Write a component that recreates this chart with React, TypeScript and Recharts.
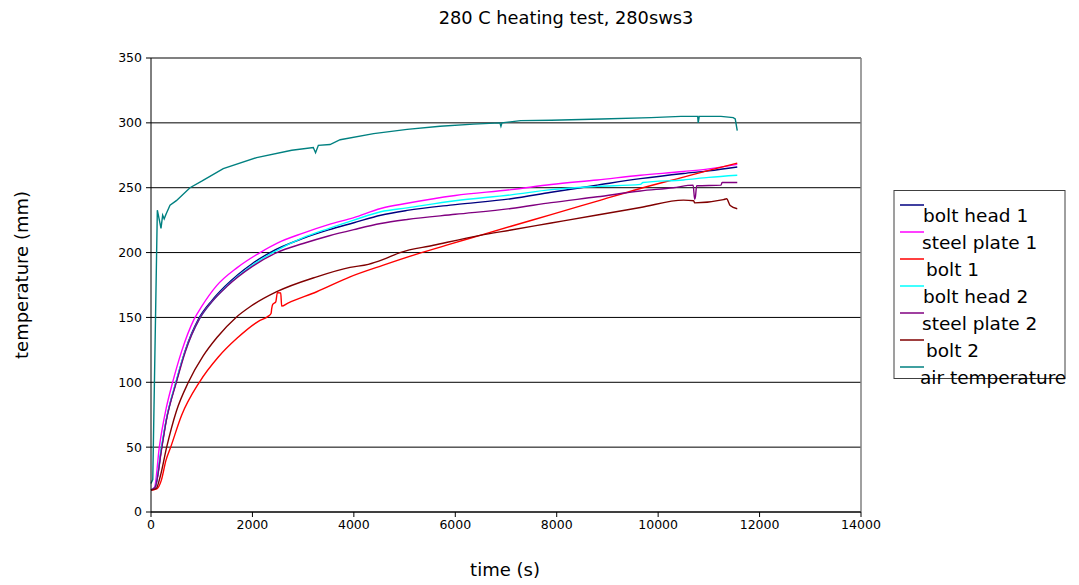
import React from 'react';
import { LineChart, Line, XAxis, YAxis, CartesianGrid, ReferenceLine } from 'recharts';

const xTicks = [0, 2000, 4000, 6000, 8000, 10000, 12000, 14000];
const yTicks = [0, 50, 100, 150, 200, 250, 300, 350];

const boltHead1T = [0, 80, 211, 300, 493, 670, 933, 1200, 1460, 2000, 2347, 3000, 3500, 4000, 4530, 5050, 6000, 7100, 7890, 8800, 9650, 10500, 11000, 11560];
const boltHead1V = [17, 19, 50, 70.7, 100, 124, 148.5, 163, 174, 191.6, 200, 211, 217.5, 223, 228.8, 232.5, 237, 241.5, 246.5, 252, 257, 261, 263, 266];

const steelPlate1T = [0, 70, 164, 300, 427, 605, 848, 1000, 1295, 1700, 2150, 2500, 3000, 3500, 4000, 4530, 5050, 6000, 7100, 7890, 8800, 9650, 10500, 11000, 11560];
const steelPlate1V = [17, 19, 50, 80, 100, 124, 148.5, 158.5, 174.5, 188.4, 200, 207.5, 215, 221.5, 227, 234, 238, 244, 248.5, 252.5, 256, 259.6, 262.5, 264.5, 268];

const bolt1T = [0, 120, 200, 296, 388, 600, 953, 1328, 1700, 2117, 2314, 2367, 2380, 2400, 2460, 2492, 2558, 2577, 2700, 3268, 3925, 4582, 5240, 5897, 6489, 7100, 7890, 8800, 9650, 10500, 11000, 11560];
const bolt1V = [16.7, 18, 24, 40, 50, 74.2, 100, 119.5, 134.1, 147, 151, 153, 156.7, 160, 162, 169.1, 168.8, 158.7, 161, 169.8, 181.3, 190.3, 198.8, 206.5, 213.3, 220.3, 229.3, 239.7, 249.4, 258.2, 263.4, 269];

const boltHead2T = [0, 80, 205, 300, 490, 675, 950, 1200, 1490, 2000, 2400, 3000, 3500, 4000, 4530, 5050, 6000, 7100, 7890, 8800, 9650, 9700, 10500, 11000, 11560];
const boltHead2V = [17, 19, 50, 71, 100, 124, 148.5, 162, 174, 190.4, 200, 211.5, 218.5, 225, 231.5, 234.5, 240, 244.5, 248.5, 251, 252.6, 254, 256, 258, 259.6];

const steelPlate2T = [0, 80, 215, 300, 500, 680, 950, 1200, 1500, 2000, 2480, 3000, 3500, 4000, 4530, 5050, 6000, 7100, 7890, 8800, 9650, 10300, 10690, 10720, 10735, 10760, 11240, 11260, 11560];
const steelPlate2V = [17, 19, 50, 70, 100, 124, 148.5, 162, 174, 189.3, 200, 207, 212.8, 217.7, 222.4, 225.5, 229.5, 234, 238.5, 243, 247.5, 250, 252, 241, 243, 251.5, 252, 254, 254];

const bolt2T = [0, 100, 180, 309, 500, 737, 1032, 1300, 1677, 1953, 2479, 3268, 3925, 4286, 4582, 4911, 5568, 6489, 7100, 7890, 8800, 9650, 10500, 10700, 10720, 11288, 11350, 11420, 11560];
const bolt2V = [17, 18, 27, 50, 77.7, 100, 120.5, 134.5, 150, 158.2, 169.8, 181.3, 188.6, 190.9, 194.7, 200, 205.6, 213.3, 217.4, 222.8, 229, 234.7, 240.4, 240, 238.3, 240.8, 241.5, 236.3, 233.8];

const airT = [0, 35, 125, 160, 197, 230, 260, 300, 375, 500, 769, 1000, 1425, 2083, 2775, 3200, 3245, 3300, 3530, 3730, 4390, 5050, 5700, 6360, 6880, 6900, 6920, 7290, 7890, 8880, 9860, 10450, 10780, 10790, 10810, 11240, 11480, 11520, 11560];
const airV = [22, 25, 232.7, 226, 218.6, 228.8, 226, 230, 236.5, 240, 250, 255, 264.7, 273.2, 278.9, 281, 277, 282.7, 283.3, 287, 291.7, 295, 297.4, 299, 300, 297.4, 300, 301.7, 302, 303, 304, 305, 305, 300, 305, 305, 304, 303, 294];

const seriesNames = ['bolt head 1', 'steel plate 1', 'bolt 1', 'bolt head 2', 'steel plate 2', 'bolt 2', 'air temperature'];
const seriesColors = ['#000080', '#FF00FF', '#FF0000', '#00FFFF', '#800080', '#800000', '#008080'];
const seriesTimes = [boltHead1T, steelPlate1T, bolt1T, boltHead2T, steelPlate2T, bolt2T, airT];
const seriesValues = [boltHead1V, steelPlate1V, bolt1V, boltHead2V, steelPlate2V, bolt2V, airV];
const seriesCurve = ['monotone', 'monotone', 'monotone', 'monotone', 'monotone', 'monotone', 'linear'];

const FONT = '"DejaVu Sans", Verdana, sans-serif';

const legendTextX = [923, 922, 926, 923, 922, 926, 920];

export default function App() {
  const series = seriesNames.map((name, i) => ({
    name,
    color: seriesColors[i],
    curve: seriesCurve[i],
    data: seriesTimes[i].map((t, j) => ({ t, v: seriesValues[i][j] })),
  }));

  return (
    <div style={{ position: 'absolute', left: 0, top: 0, width: 1079, height: 585, background: '#fff', fontFamily: FONT }}>
      <LineChart
        width={1079}
        height={585}
        margin={{ top: 58, right: 218, bottom: 43, left: 0 }}
      >
        <CartesianGrid horizontal={true} vertical={false} stroke="#000" strokeWidth={1} />
        <XAxis
          type="number"
          dataKey="t"
          domain={[0, 14000]}
          ticks={xTicks}
          allowDuplicatedCategory={false}
          height={30}
          tickSize={5}
          tickMargin={3}
          stroke="#000"
          tick={{ fill: '#000', fontSize: 12.5, fontFamily: FONT }}
          interval={0}
        />
        <YAxis
          type="number"
          domain={[0, 350]}
          ticks={yTicks}
          width={151}
          tickSize={5}
          tickMargin={4}
          stroke="#000"
          tick={{ fill: '#000', fontSize: 12.5, fontFamily: FONT }}
          interval={0}
        />
        <ReferenceLine y={350} stroke="#808080" strokeWidth={1.5} />
        <ReferenceLine x={14000} stroke="#808080" strokeWidth={1.5} />
        {series.map((s) => (
          <Line
            key={s.name}
            data={s.data}
            dataKey="v"
            name={s.name}
            stroke={s.color}
            strokeWidth={1.4}
            dot={false}
            activeDot={false}
            type={s.curve as any}
            isAnimationActive={false}
          />
        ))}
      </LineChart>
      <svg
        width={1079}
        height={585}
        style={{ position: 'absolute', left: 0, top: 0, pointerEvents: 'none' }}
      >
        <text x={566} y={24} textAnchor="middle" fontSize={17.8} fontFamily={FONT} fill="#000">
          280 C heating test, 280sws3
        </text>
        <text x={505} y={576} textAnchor="middle" fontSize={18} fontFamily={FONT} fill="#000">
          time (s)
        </text>
        <text
          x={0}
          y={0}
          transform="translate(28,275) rotate(-90)"
          textAnchor="middle"
          fontSize={18}
          fontFamily={FONT}
          fill="#000"
        >
          temperature (mm)
        </text>
        <rect x={894} y={190.5} width={171} height={188} fill="#fff" stroke="#404040" strokeWidth={1} />
        {seriesNames.map((name, i) => (
          <g key={name}>
            <line x1={900} x2={924} y1={205 + 27 * i} y2={205 + 27 * i} stroke={seriesColors[i]} strokeWidth={1.5} />
            <text x={legendTextX[i]} y={222.3 + 27 * i} fontSize={18.5} fontFamily={FONT} fill="#000">
              {name}
            </text>
          </g>
        ))}
      </svg>
    </div>
  );
}
